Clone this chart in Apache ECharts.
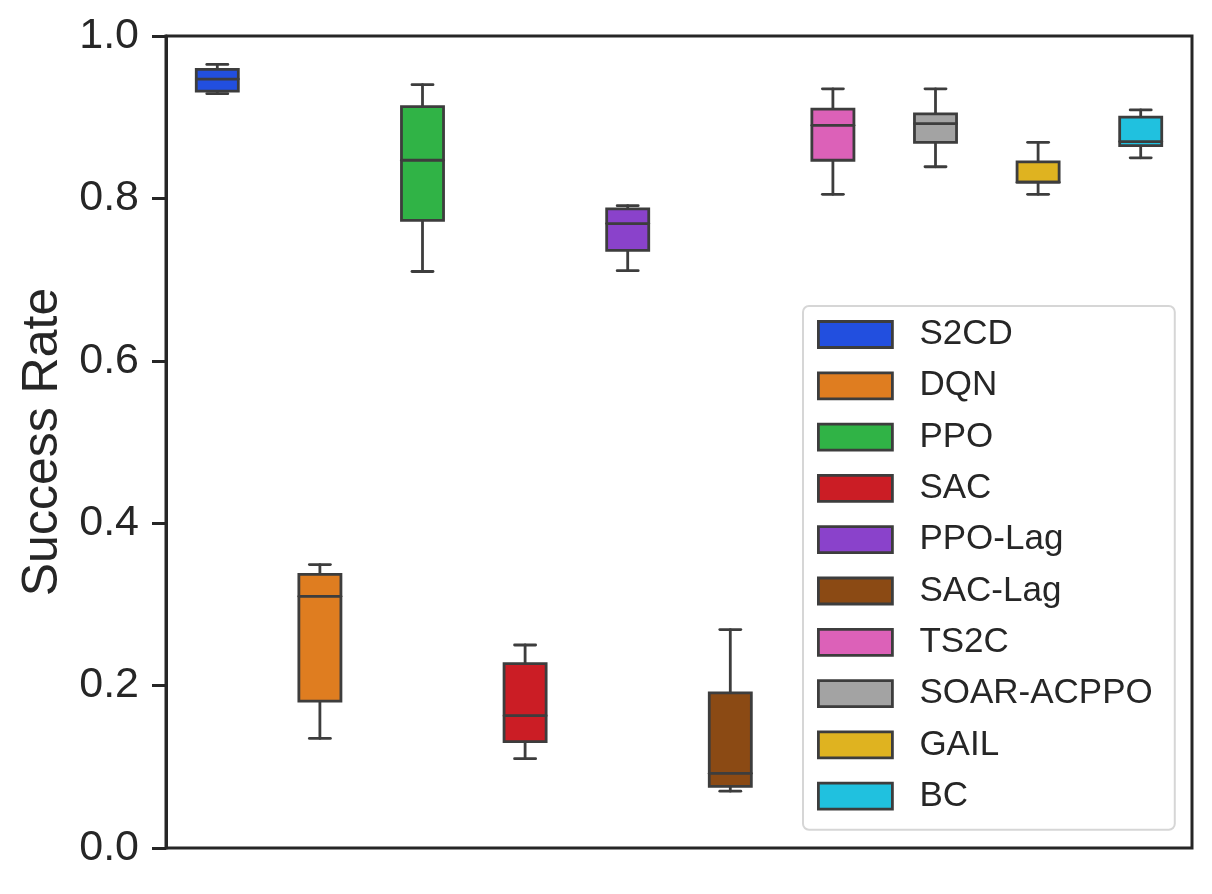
<!DOCTYPE html>
<html>
<head>
<meta charset="utf-8">
<script src="https://cdn.jsdelivr.net/npm/echarts@6/dist/echarts.min.js"></script>
<style>
    html, body { margin: 0; padding: 0; background: #fff; }
    #chart { width: 1212px; height: 894px; }
</style>
</head>
<body>
<div id="chart"></div>
<script>
// methods on the x axis (one box each)
var methods = ['S2CD', 'DQN', 'PPO', 'SAC', 'PPO-Lag', 'SAC-Lag', 'TS2C', 'SOAR-ACPPO', 'GAIL', 'BC'];

// box stats: lower whisker, q1, median, q3, upper whisker
var lowWhisker = [0.929, 0.135, 0.710, 0.110, 0.711, 0.070, 0.805, 0.839, 0.805, 0.850];
var q1Values   = [0.932, 0.181, 0.773, 0.131, 0.736, 0.076, 0.847, 0.869, 0.820, 0.865];
var medians    = [0.947, 0.310, 0.847, 0.163, 0.769, 0.092, 0.890, 0.892, 0.820, 0.870];
var q3Values   = [0.959, 0.337, 0.913, 0.227, 0.787, 0.191, 0.910, 0.904, 0.845, 0.900];
var highWhisker = [0.965, 0.349, 0.940, 0.250, 0.791, 0.269, 0.935, 0.935, 0.869, 0.909];

var yTicks = [0, 0.2, 0.4, 0.6, 0.8, 1.0];

// seaborn "bright" palette, boxes get desaturated to 0.75
var palette = ['#023eff', '#ff7c00', '#1ac938', '#e8000b', '#8b2be2',
               '#9f4800', '#f14cc1', '#a3a3a3', '#ffc400', '#00d7ff'];

var EDGE = '#3d3d3d';
var INK = '#262626';
var FONT = 'Liberation Sans, Arial, sans-serif';

function desaturate(hex, prop) {
    var r = parseInt(hex.substr(1, 2), 16) / 255;
    var g = parseInt(hex.substr(3, 2), 16) / 255;
    var b = parseInt(hex.substr(5, 2), 16) / 255;
    var mx = Math.max(r, g, b), mn = Math.min(r, g, b);
    var l = (mx + mn) / 2, h = 0, s = 0;
    if (mx !== mn) {
        var d = mx - mn;
        s = l > 0.5 ? d / (2 - mx - mn) : d / (mx + mn);
        if (mx === r) h = ((g - b) / d + (g < b ? 6 : 0)) / 6;
        else if (mx === g) h = ((b - r) / d + 2) / 6;
        else h = ((r - g) / d + 4) / 6;
    }
    s = s * prop;
    function hue2rgb(p, q, t) {
        if (t < 0) t += 1;
        if (t > 1) t -= 1;
        if (t < 1 / 6) return p + (q - p) * 6 * t;
        if (t < 1 / 2) return q;
        if (t < 2 / 3) return p + (q - p) * (2 / 3 - t) * 6;
        return p;
    }
    var q = l < 0.5 ? l * (1 + s) : l + s - l * s;
    var p = 2 * l - q;
    var out = [hue2rgb(p, q, h + 1 / 3), hue2rgb(p, q, h), hue2rgb(p, q, h - 1 / 3)];
    return '#' + out.map(function (v) {
        var n = Math.round(v * 255).toString(16);
        return n.length < 2 ? '0' + n : n;
    }).join('');
}

// draw one seaborn-like box: whiskers with half-width caps, filled box, median line
function renderBox(params, api) {
    var x = api.value(0);
    var lo = api.coord([x, api.value(1)]);
    var q1 = api.coord([x, api.value(2)]);
    var md = api.coord([x, api.value(3)]);
    var q3 = api.coord([x, api.value(4)]);
    var hi = api.coord([x, api.value(5)]);
    var band = api.size([1, 0])[0];
    var bw = band * 0.41;
    var cx = lo[0];
    var lineStyle = { stroke: EDGE, lineWidth: 2.8, lineCap: 'round' };
    return {
        type: 'group',
        children: [
            { type: 'line', shape: { x1: cx, y1: lo[1], x2: cx, y2: q1[1] }, style: lineStyle },
            { type: 'line', shape: { x1: cx, y1: q3[1], x2: cx, y2: hi[1] }, style: lineStyle },
            { type: 'line', shape: { x1: cx - bw / 4, y1: lo[1], x2: cx + bw / 4, y2: lo[1] }, style: lineStyle },
            { type: 'line', shape: { x1: cx - bw / 4, y1: hi[1], x2: cx + bw / 4, y2: hi[1] }, style: lineStyle },
            {
                type: 'rect',
                shape: { x: cx - bw / 2, y: q3[1], width: bw, height: q1[1] - q3[1] },
                style: { fill: api.visual('color'), stroke: EDGE, lineWidth: 2.8 }
            },
            { type: 'line', shape: { x1: cx - bw / 2, y1: md[1], x2: cx + bw / 2, y2: md[1] }, style: lineStyle }
        ]
    };
}

var series = methods.map(function (name, i) {
    return {
        name: name,
        type: 'custom',
        renderItem: renderBox,
        color: desaturate(palette[i], 0.75),
        encode: { x: 0, y: [1, 2, 3, 4, 5] },
        data: [[i, lowWhisker[i], q1Values[i], medians[i], q3Values[i], highWhisker[i]]]
    };
});

var chart = echarts.init(document.getElementById('chart'));

var option = {
    backgroundColor: '#fff',
    animation: false,
    textStyle: { fontFamily: FONT, color: INK },
    grid: {
        left: 166, right: 20, top: 36, bottom: 46,
        show: true,
        borderColor: INK,
        borderWidth: 3,
        backgroundColor: 'transparent'
    },
    xAxis: {
        type: 'category',
        data: methods,
        axisLine: { show: false },
        axisTick: { show: false },
        axisLabel: { show: false },
        splitLine: { show: false }
    },
    yAxis: {
        type: 'value',
        min: yTicks[0],
        max: yTicks[yTicks.length - 1],
        interval: 0.2,
        name: 'Success Rate',
        nameLocation: 'middle',
        nameGap: 98,
        nameRotate: 90,
        nameTextStyle: { fontSize: 50, color: INK, fontFamily: FONT },
        axisLine: { show: true, lineStyle: { color: INK, width: 3 } },
        axisTick: { show: true, length: 14, lineStyle: { color: INK, width: 3 } },
        axisLabel: {
            fontSize: 43,
            color: INK,
            fontFamily: FONT,
            margin: 27,
            formatter: function (v) { return v.toFixed(1); }
        },
        splitLine: { show: false }
    },
    legend: {
        orient: 'vertical',
        left: 803,
        top: 306,
        padding: [11, 22, 16, 14],
        itemWidth: 74,
        itemHeight: 26,
        itemGap: 16.3,
        icon: 'rect',
        itemStyle: { borderColor: EDGE, borderWidth: 2.8 },
        backgroundColor: '#fff',
        borderColor: '#d6d6d6',
        borderWidth: 2,
        borderRadius: 6,
        textStyle: {
            fontSize: 35,
            color: INK,
            fontFamily: FONT,
            lineHeight: 35,
            padding: [0, 0, 0, 22]
        },
        data: methods
    },
    series: series
};

chart.setOption(option);
</script>
</body>
</html>
